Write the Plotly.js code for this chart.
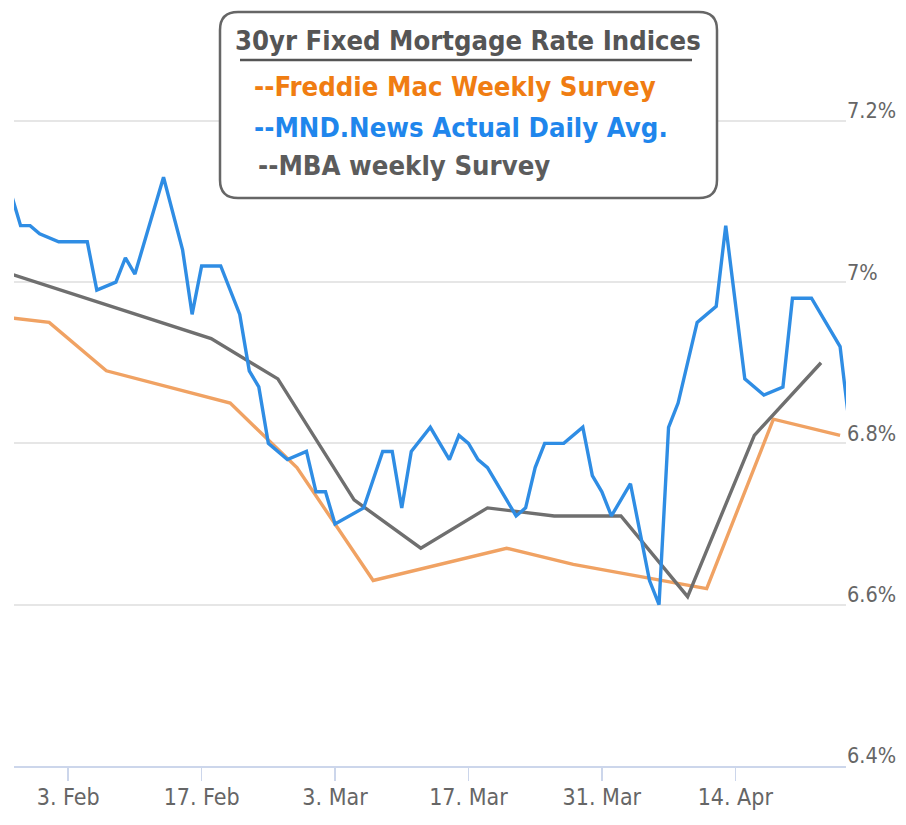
<!DOCTYPE html>
<html><head><meta charset="utf-8">
<script src="https://cdn.plot.ly/plotly-3.0.1.min.js"></script>
<style>html,body{margin:0;padding:0;background:#fff}#chart{width:906px;height:825px}</style>
</head><body><div id="chart"></div>
<script>
// ---- data ----
const mndDates = ['2025-01-28','2025-01-29','2025-01-30','2025-01-31','2025-02-02','2025-02-05','2025-02-06','2025-02-08','2025-02-09','2025-02-10','2025-02-13','2025-02-15','2025-02-16','2025-02-17','2025-02-19','2025-02-21','2025-02-22','2025-02-23','2025-02-24','2025-02-26','2025-02-28','2025-03-01','2025-03-02','2025-03-03','2025-03-06','2025-03-08','2025-03-09','2025-03-10','2025-03-11','2025-03-13','2025-03-15','2025-03-16','2025-03-17','2025-03-18','2025-03-19','2025-03-22','2025-03-23','2025-03-24','2025-03-25','2025-03-27','2025-03-29','2025-03-30','2025-03-31','2025-04-01','2025-04-03','2025-04-05','2025-04-06','2025-04-07','2025-04-08','2025-04-10','2025-04-12','2025-04-13','2025-04-15','2025-04-17','2025-04-19','2025-04-20','2025-04-22','2025-04-24','2025-04-25','2025-04-26'];
const mndRates = [7.11,7.07,7.07,7.06,7.05,7.05,6.99,7.00,7.03,7.01,7.13,7.04,6.96,7.02,7.02,6.96,6.89,6.87,6.80,6.78,6.79,6.74,6.74,6.70,6.72,6.79,6.79,6.72,6.79,6.82,6.78,6.81,6.80,6.78,6.77,6.71,6.72,6.77,6.80,6.80,6.82,6.76,6.74,6.71,6.75,6.63,6.60,6.82,6.85,6.95,6.97,7.07,6.88,6.86,6.87,6.98,6.98,6.94,6.92,6.82];

const freddieDates = ['2025-01-25','2025-02-01','2025-02-07','2025-02-20','2025-02-27','2025-03-07','2025-03-21','2025-03-28','2025-04-11','2025-04-18','2025-04-25'];
const freddieRates = [6.96,6.95,6.89,6.85,6.77,6.63,6.67,6.65,6.62,6.83,6.81];

const mbaDates = ['2025-01-28','2025-02-18','2025-02-25','2025-03-05','2025-03-12','2025-03-19','2025-03-26','2025-04-02','2025-04-09','2025-04-16','2025-04-23'];
const mbaRates = [7.01,6.93,6.88,6.73,6.67,6.72,6.71,6.71,6.61,6.81,6.90];

const xTickVals = ['2025-02-03','2025-02-17','2025-03-03','2025-03-17','2025-03-31','2025-04-14'];
const xTickText = ['3. Feb','17. Feb','3. Mar','17. Mar','31. Mar','14. Apr'];
const yTickVals = [6.4, 6.6, 6.8, 7.0, 7.2];
const yTickText = ['6.4%','6.6%','6.8%','7%','7.2%'];

const legendTitle = '30yr Fixed Mortgage Rate Indices';
const legendLines = ['--Freddie Mac Weekly Survey','--MND.News Actual Daily Avg.','--MBA weekly Survey'];

// ---- layout helpers (pixel -> paper) ----
const W = 906, H = 825;
const mL = 14, mR = 60, mT = 0, mB = 59;
const PW = W - mL - mR, PH = H - mT - mB;
const px = x => (x - mL) / PW;
const py = y => (H - mB - y) / PH;

function roundRect(x0, y0, x1, y1, r) {
  const P = (x, y) => px(x).toFixed(5) + ',' + py(y).toFixed(5);
  return 'M' + P(x0 + r, y0) + ' L' + P(x1 - r, y0) + ' Q' + P(x1, y0) + ' ' + P(x1, y0 + r) +
    ' L' + P(x1, y1 - r) + ' Q' + P(x1, y1) + ' ' + P(x1 - r, y1) +
    ' L' + P(x0 + r, y1) + ' Q' + P(x0, y1) + ' ' + P(x0, y1 - r) +
    ' L' + P(x0, y0 + r) + ' Q' + P(x0, y0) + ' ' + P(x0 + r, y0) + ' Z';
}

const tickFamily = "'DejaVu Sans Condensed', 'DejaVu Sans', sans-serif";
const boxFont = "'DejaVu Sans Condensed', 'DejaVu Sans', sans-serif";

const traces = [
  {x: freddieDates, y: freddieRates, type: 'scatter', mode: 'lines', line: {color: '#f0a263', width: 3.4}, hoverinfo: 'skip'},
  {x: mbaDates, y: mbaRates, type: 'scatter', mode: 'lines', line: {color: '#6f6f6f', width: 3.4}, hoverinfo: 'skip'},
  {x: mndDates, y: mndRates, type: 'scatter', mode: 'lines', line: {color: '#2f8de4', width: 3.4}, hoverinfo: 'skip'}
];

const layout = {
  width: W, height: H,
  margin: {l: mL, r: mR, t: mT, b: mB},
  paper_bgcolor: '#ffffff', plot_bgcolor: '#ffffff',
  showlegend: false,
  xaxis: {
    type: 'date',
    range: ['2025-01-28 07:26', '2025-04-25 14:53'],
    tickmode: 'array', tickvals: xTickVals, ticktext: xTickText,
    showgrid: false, zeroline: false,
    showline: true, linecolor: '#ccd6eb', linewidth: 2,
    ticks: 'outside', ticklen: 13, tickwidth: 1.5, tickcolor: '#ccd6eb',
    tickfont: {family: tickFamily, size: 23, color: '#666666'}, ticklabelstandoff: -4
  },
  yaxis: {
    side: 'right',
    range: [6.4, 6.4 + PH / 806.5],
    tickmode: 'array', tickvals: yTickVals, ticktext: yTickText,
    ticklabelposition: 'outside top', ticklabelshift: 5,
    showgrid: true, gridcolor: '#e6e6e6', gridwidth: 2,
    zeroline: false, showline: false, ticks: '',
    tickfont: {family: tickFamily, size: 21.5, color: '#666666'}
  },
  shapes: [
    {type: 'path', xref: 'paper', yref: 'paper', layer: 'above',
     path: roundRect(220, 12, 717, 198, 18),
     fillcolor: '#ffffff', line: {color: '#666666', width: 2.5}},
    {type: 'line', xref: 'paper', yref: 'paper', layer: 'above',
     x0: px(240), x1: px(692), y0: py(60), y1: py(60),
     line: {color: '#555555', width: 2.5}}
  ],
  annotations: [
    {text: '<b>' + legendTitle + '</b>', xref: 'paper', yref: 'paper', x: px(233), y: py(40),
     xanchor: 'left', yanchor: 'middle', showarrow: false,
     font: {family: boxFont, size: 27.2, color: '#555555'}},
    {text: '<b>' + legendLines[0] + '</b>', xref: 'paper', yref: 'paper', x: px(252), y: py(86),
     xanchor: 'left', yanchor: 'middle', showarrow: false,
     font: {family: boxFont, size: 27.3, color: '#f07d12'}},
    {text: '<b>' + legendLines[1] + '</b>', xref: 'paper', yref: 'paper', x: px(252), y: py(127),
     xanchor: 'left', yanchor: 'middle', showarrow: false,
     font: {family: boxFont, size: 27.3, color: '#1f86ec'}},
    {text: '<b>' + legendLines[2] + '</b>', xref: 'paper', yref: 'paper', x: px(256), y: py(165),
     xanchor: 'left', yanchor: 'middle', showarrow: false,
     font: {family: boxFont, size: 27.3, color: '#5c5c5c'}}
  ]
};

Plotly.newPlot('chart', traces, layout, {staticPlot: true, displayModeBar: false});
</script>
</body></html>
